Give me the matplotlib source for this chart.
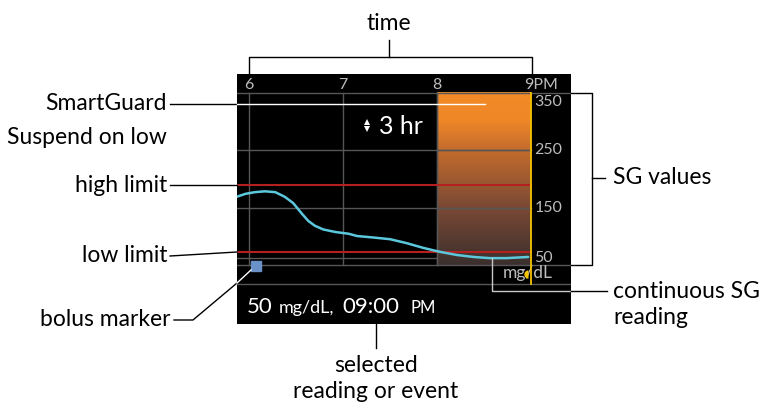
import numpy as np
import matplotlib
matplotlib.use('Agg')
import matplotlib.pyplot as plt
from matplotlib.colors import LinearSegmentedColormap

plt.rcParams['font.family'] = ['Lato', 'DejaVu Sans']

# ---------------- data ----------------
hour_ticks = [6, 7, 8, 9]
hour_labels = ['6', '7', '8', '9PM']
sg_ticks = [350, 250, 150, 50]
sg_unit = 'mg/dL'

sg_hours = [5.87, 5.96, 6.06, 6.17, 6.28, 6.38, 6.47, 6.56, 6.63, 6.70,
            6.79, 6.92, 7.06, 7.15, 7.32, 7.50, 7.68, 7.85, 8.03, 8.21,
            8.39, 8.56, 8.74, 8.97]
sg_values = [169, 174, 177, 178.5, 177, 169, 158, 140, 127, 118.5,
             112, 107.5, 104.5, 100.5, 98, 95, 88, 80, 73, 67.5,
             64, 62, 62, 64]

high_limit = 190
low_limit = 72
suspend_line = 330
suspend_window = [8, 9]
bolus_hours = [6.07]
bolus_values = [48]
current_hour = 9
current_marker_value = 34
duration_label = '3 hr'

selected_value = '50'
selected_unit = 'mg/dL,'
selected_time = '09:00'
selected_ampm = 'PM'

left_labels = ['SmartGuard', 'Suspend on low', 'high limit', 'low limit', 'bolus marker']
right_labels = ['SG values', 'continuous SG', 'reading']
top_label = 'time'
bottom_labels = ['selected', 'reading or event']

# ---------------- figure ----------------
W, H = 759, 405
fig = plt.figure(figsize=(W / 100, H / 100), dpi=100)
fig.patch.set_facecolor('white')

# screen axes (black box from px x 237..571, y 74..324)
ax = fig.add_axes([237 / W, 1 - 324 / H, (571 - 237) / W, (324 - 74) / H])
ax.set_facecolor('black')
xl = (5.8723, 9.4255)
yl = (-52.9, 383.1)
for s in ax.spines.values():
    s.set_visible(False)
ax.set_xticks([])
ax.set_yticks([])

grid_c = '#565656'
# horizontal layout lines
ax.plot(xl, [350, 350], color=grid_c, lw=1, zorder=2)
ax.plot(xl, [50, 50], color=grid_c, lw=1, zorder=2)
ax.plot(xl, [17, 17], color=grid_c, lw=1, zorder=2)
ax.plot([xl[0], suspend_window[0]], [62, 62], color=grid_c, lw=1, zorder=2)
for v in [250, 150]:
    ax.plot([xl[0], current_hour], [v, v], color=grid_c, lw=1, zorder=3)
for h in hour_ticks[:-1]:
    ax.plot([h, h], [50, 350], color=grid_c, lw=1, zorder=3)

# suspend window gradient
cmap = LinearSegmentedColormap.from_list('sus', [
    (0.0, '#3A2F2D'), (0.333, '#7A4934'), (0.667, '#C46C2D'),
    (0.84, '#F08728'), (1.0, '#F28A26')])
grad = np.linspace(0, 1, 256).reshape(-1, 1)
ax.imshow(grad, extent=[suspend_window[0], suspend_window[1], 50, 350],
          origin='lower', aspect='auto', cmap=cmap, zorder=1)
for v in [250, 150]:
    ax.plot(suspend_window, [v, v], color=grid_c, lw=1, zorder=3)
ax.plot([suspend_window[0]] * 2, [50, 350], color=grid_c, lw=1, zorder=3)

# limits
ax.plot([xl[0], current_hour], [high_limit] * 2, color='#B3201E', lw=1.5, zorder=4)
ax.plot([xl[0], current_hour], [low_limit] * 2, color='#B3201E', lw=1.5, zorder=4)

# SG curve
ax.plot(sg_hours, sg_values, color='#5CC8DD', lw=1.8, zorder=5,
        solid_capstyle='round', solid_joinstyle='round')

# unit label
tick_c = '#BDBDBD'
ax.text(8.96, 36, sg_unit, color=tick_c, fontsize=12.5, ha='center',
        va='center', zorder=5)

# current time line and marker
ax.plot([current_hour] * 2, [17, 350], color='#F5C400', lw=1.3, zorder=6)
ax.plot([current_hour - 0.03], [current_marker_value], marker='o', ms=6,
        fillstyle='left', markerfacecolor='#F5C400', markerfacecoloralt='none',
        mew=0, zorder=7)

# bolus marker
ax.plot(bolus_hours, bolus_values, marker='s', ms=7.2, color='#6A92C8',
        ls='none', zorder=7)

# tick labels
for h, lab in zip(hour_ticks, hour_labels):
    if lab.endswith('PM'):
        ax.text(h - 0.075, 364, lab, color=tick_c, fontsize=11.5,
                ha='left', va='center', zorder=8)
    else:
        ax.text(h, 364, lab, color=tick_c, fontsize=11.5,
                ha='center', va='center', zorder=8)
for v in sg_ticks:
    ax.text(current_hour + 0.035, np.clip(v, 62, 334), str(v), color=tick_c,
            fontsize=11.5, ha='left', va='center', zorder=8)

ax.set_xlim(xl)
ax.set_ylim(yl)

# ---------------- overlay (pixel coordinates) ----------------
ov = fig.add_axes([0, 0, 1, 1])
ov.set_xlim(0, W)
ov.set_ylim(H, 0)
ov.axis('off')
ov.patch.set_alpha(0)

lk = dict(color='black', lw=1)
lw_ = dict(color='white', lw=1)
fs = 16.5

# duration label inside screen
ov.plot([366.5], [121.5], marker='^', ms=4.2, color='white', mew=0)
ov.plot([366.5], [129], marker='v', ms=4.2, color='white', mew=0)
ov.text(379, 126, duration_label, color='white', fontsize=18,
        ha='left', va='center')

# selected reading text
ov.text(247, 313, selected_value, color='white', fontsize=16, va='baseline')
ov.text(279, 313, selected_unit, color='white', fontsize=13, va='baseline')
ov.text(342, 313, selected_time, color='white', fontsize=16, va='baseline')
ov.text(411, 313, selected_ampm, color='white', fontsize=12, va='baseline')

# time bracket
ov.plot([249, 249, 532, 532], [74, 57, 57, 74], **lk)
ov.plot([389, 389], [57, 40], **lk)
ov.text(389, 23, top_label, fontsize=fs, ha='center', va='center')

# left callouts
ov.plot([170, 237], [104, 104], **lk)
ov.plot([237, 485], [104, 104], **lw_)
ov.text(167, 104, left_labels[0], fontsize=fs, ha='right', va='center')
ov.text(167, 137, left_labels[1], fontsize=fs, ha='right', va='center')
ov.plot([170, 237], [185, 185], **lk)
ov.text(167, 185, left_labels[2], fontsize=fs, ha='right', va='center')
ov.plot([170, 237], [256, 252], **lk)
ov.text(167, 255, left_labels[3], fontsize=fs, ha='right', va='center')
ov.plot([174, 193, 237], [320, 320, 283], **lk)
ov.plot([237, 251], [283, 270], **lw_)
ov.text(170, 320, left_labels[4], fontsize=fs, ha='right', va='center')

# right callouts
ov.plot([571, 592, 592, 571], [93, 93, 265, 265], **lk)
ov.plot([592, 605], [178, 178], **lk)
ov.text(613, 178, right_labels[0], fontsize=fs, ha='left', va='center')
ov.plot([492, 492, 571], [258, 291, 291], color='#C8C8C8', lw=1)
ov.plot([571, 607], [291, 291], **lk)
ov.text(613, 291, right_labels[1], fontsize=fs, ha='left', va='center')
ov.text(613, 317, right_labels[2], fontsize=fs, ha='left', va='center')

# bottom callout
ov.plot([376, 376], [324, 348], **lk)
ov.text(376, 365, bottom_labels[0], fontsize=fs, ha='center', va='center')
ov.text(376, 392, bottom_labels[1], fontsize=fs, ha='center', va='center')

fig.savefig('out.png', dpi=100, facecolor='white')
